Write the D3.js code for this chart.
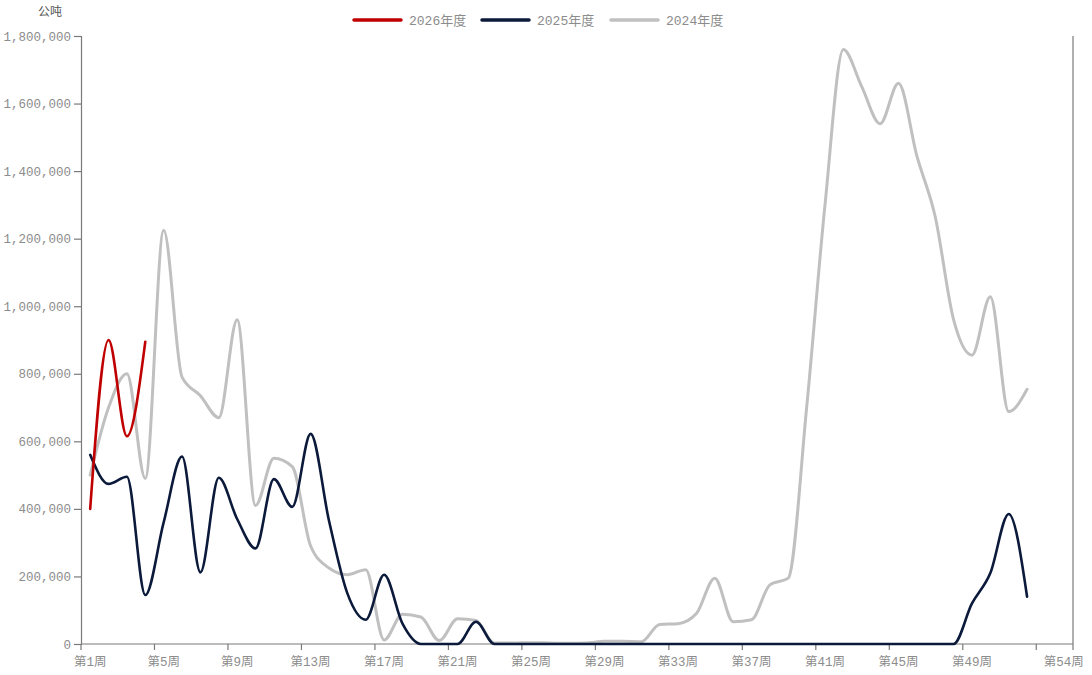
<!DOCTYPE html>
<html>
<head>
<meta charset="utf-8">
<script src="https://cdn.jsdelivr.net/npm/d3@7/dist/d3.min.js"></script>
<style>
  html, body { margin: 0; padding: 0; background: #ffffff; }
  svg { display: block; }
  text { font-family: "Liberation Mono", "DejaVu Sans Mono", "Noto Sans CJK SC", monospace; }
</style>
</head>
<body>
<svg id="chart" width="1092" height="675"></svg>
<script>
// ---------- DATA ----------
const categories = d3.range(1, 55).map(i => `第${i}周`);   // 第1周 … 第54周
const seriesNames = ["2026年度", "2025年度", "2024年度"];
const seriesColors = ["#c00000", "#0b1a3a", "#c0c0c0"];

const values2026 = [400000, 900000, 615000, 895000];

const values2025 = [
  560000, 474000, 495000, 145000, 360000, 555000, 212000, 492000, 370000, 283000,
  488000, 406000, 622000, 365000, 150000, 72000, 205000, 60000, 0, 0,
  0, 66000, 0, 0, 0, 0, 0, 0, 0, 0,
  0, 0, 0, 0, 0, 0, 0, 0, 0, 0,
  0, 0, 0, 0, 0, 0, 0, 0, 120000, 210000,
  385000, 140000
];

const values2024 = [
  500000, 700000, 800000, 490000, 1225000, 790000, 735000, 670000, 960000, 410000,
  550000, 525000, 290000, 225000, 205000, 220000, 12000, 88000, 80000, 10000,
  75000, 70000, 3000, 3000, 4000, 3000, 2000, 3000, 8000, 8000,
  7000, 58000, 60000, 90000, 195000, 66000, 72000, 175000, 195000, 700000,
  1300000, 1760000, 1650000, 1540000, 1660000, 1445000, 1265000, 960000, 855000, 1028000,
  688000, 754000
];

const yTicks = [0, 200000, 400000, 600000, 800000, 1000000, 1200000, 1400000, 1600000, 1800000];
const xTickCategories = ["第1周","第5周","第9周","第13周","第17周","第21周","第25周","第29周","第33周","第37周","第41周","第45周","第49周","第53周"];
const xLabelCategories = ["第1周","第5周","第9周","第13周","第17周","第21周","第25周","第29周","第33周","第37周","第41周","第45周","第49周","第54周"];
const unitLabel = "公吨";

// ---------- LAYOUT ----------
const svg = d3.select("#chart");
const plotL = 81, plotR = 1073, plotT = 36, plotB = 644;
const axisColor = "#7a7a7a";
const labelColor = "#8c8c8c";

const x = d3.scaleBand().domain(categories).range([plotL, plotR]).padding(0);
const y = d3.scaleLinear().domain([0, 1800000]).range([plotB, plotT]);
const cx = c => x(c) + x.bandwidth() / 2;

// ---------- AXES ----------
const yAxis = d3.axisLeft(y).tickValues(yTicks).tickSize(7).tickPadding(3)
  .tickFormat(d3.format(","));
const gy = svg.append("g").attr("transform", `translate(${plotL},0)`).call(yAxis);
gy.select(".domain").attr("stroke", axisColor).attr("stroke-width", 1.2);
gy.selectAll(".tick line").attr("stroke", axisColor).attr("stroke-width", 1.2);
gy.selectAll(".tick text").attr("fill", labelColor).style("font-size", "12.5px")
  .style("font-family", "'Liberation Mono','DejaVu Sans Mono',monospace");

svg.append("line")
  .attr("x1", plotR).attr("x2", plotR).attr("y1", plotT).attr("y2", plotB)
  .attr("stroke", axisColor).attr("stroke-width", 1.2);

svg.append("line")
  .attr("x1", plotL).attr("x2", plotR).attr("y1", plotB).attr("y2", plotB)
  .attr("stroke", axisColor).attr("stroke-width", 1.2);

const tickXs = xTickCategories.map(c => x(c)).concat([plotR]);
svg.append("g").selectAll("line").data(tickXs).join("line")
  .attr("x1", d => d).attr("x2", d => d)
  .attr("y1", plotB).attr("y2", plotB + 6)
  .attr("stroke", axisColor).attr("stroke-width", 1.2);

svg.append("g").selectAll("text").data(xLabelCategories).join("text")
  .attr("x", d => cx(d)).attr("y", plotB + 22)
  .attr("text-anchor", "middle")
  .attr("fill", labelColor)
  .style("font-size", "12.5px")
  .text(d => d);

svg.append("text").attr("x", 50).attr("y", 16).attr("text-anchor", "middle")
  .attr("fill", "#555").style("font-size", "12px").text(unitLabel);

// ---------- LINES ----------
const line = d3.line()
  .x((d, i) => cx(categories[i]))
  .y(d => y(d))
  .curve(d3.curveMonotoneX);

const drawOrder = [
  { vals: values2024, color: seriesColors[2], w: 3 },
  { vals: values2025, color: seriesColors[1], w: 2.6 },
  { vals: values2026, color: seriesColors[0], w: 2.6 }
];
drawOrder.forEach(s => {
  svg.append("path")
    .datum(s.vals)
    .attr("fill", "none")
    .attr("stroke", s.color)
    .attr("stroke-width", s.w)
    .attr("stroke-linejoin", "round")
    .attr("stroke-linecap", "round")
    .attr("d", line);
});

// ---------- LEGEND ----------
const legendX = [354, 482, 611];
const lg = svg.append("g");
seriesNames.forEach((name, i) => {
  const g = lg.append("g").attr("transform", `translate(${legendX[i]},20)`);
  g.append("line").attr("x1", 0).attr("x2", 47).attr("y1", 0).attr("y2", 0)
    .attr("stroke", seriesColors[i]).attr("stroke-width", 3.5).attr("stroke-linecap", "round");
  g.append("text").attr("x", 55).attr("y", 0).attr("dy", "0.36em")
    .attr("fill", labelColor).style("font-size", "13px").text(name);
});
</script>
</body>
</html>
